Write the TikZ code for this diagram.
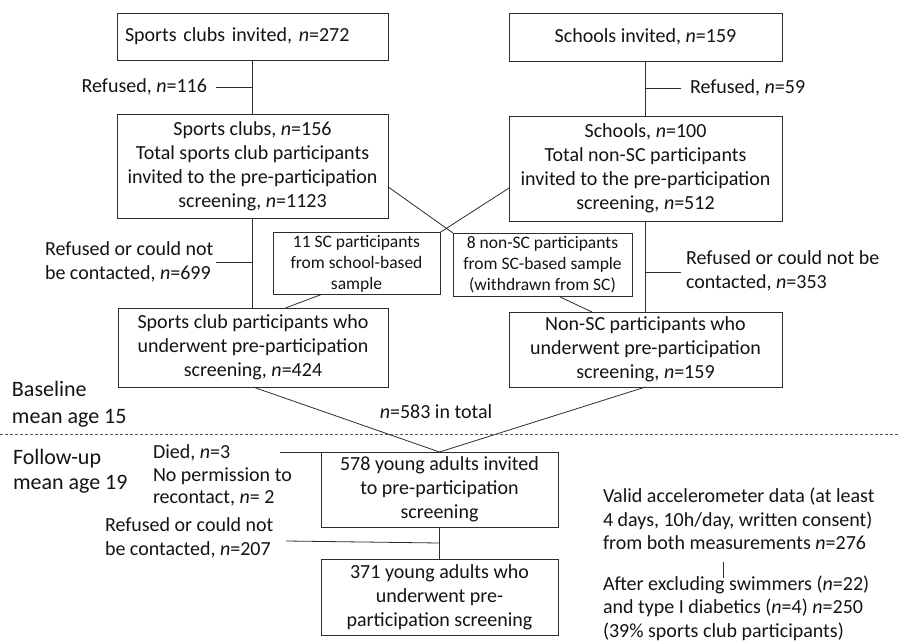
\documentclass[tikz,border=0pt]{standalone}
\usepackage{fontspec}
\setmainfont{Carlito}
\usetikzlibrary{calc}
\definecolor{lc}{RGB}{45,45,45}
\definecolor{tc}{RGB}{20,20,20}
\begin{document}
\begin{tikzpicture}[x=1pt,y=-1pt,
  every node/.style={inner sep=0pt, outer sep=0pt, text=tc},
  box/.style={draw=lc, line width=0.8pt, align=center, font=\fontsize{20}{24}\selectfont},
  sbox/.style={draw=lc, line width=0.8pt, align=center, font=\fontsize{17.5}{21}\selectfont},
  lbl/.style={align=left, font=\fontsize{20}{24}\selectfont},
  phase/.style={align=left, font=\fontsize{22}{27}\selectfont},
  conn/.style={draw=lc, line width=0.8pt},
  sep/.style={draw=lc!80, line width=1pt, dash pattern=on 3pt off 2pt},
]
\useasboundingbox[fill=white] (0,0) rectangle (899,642);

% boxes
\node[box, minimum width=271, minimum height=47, text width=255, align=left] (A) at (252.5,36.5) {Sports clubs invited, \textit{n}=272};
\node[box, minimum width=273, minimum height=48] (B) at (645.5,37) {Schools invited, \textit{n}=159};
\node[box, minimum width=271, minimum height=104] (C) at (252.5,166) {Sports clubs, \textit{n}=156\\Total sports club participants\\invited to the pre-participation\\screening, \textit{n}=1123};
\node[box, minimum width=273, minimum height=105] (D) at (645.5,168.5) {Schools, \textit{n}=100\\Total non-SC participants\\invited to the pre-participation\\screening, \textit{n}=512};
\node[sbox, minimum width=167, minimum height=62] (S) at (356.5,263.5) {11 SC participants\\from school-based\\sample};
\node[sbox, minimum width=179, minimum height=63] (N) at (542.5,264.5) {8 non-SC participants\\from SC-based sample\\(withdrawn from SC)};
\node[box, minimum width=270, minimum height=79] (E) at (253,347.5) {Sports club participants who\\underwent pre-participation\\screening, \textit{n}=424};
\node[box, minimum width=273, minimum height=75] (F) at (645.5,349.5) {Non-SC participants who\\underwent pre-participation\\screening, \textit{n}=159};
\node[box, minimum width=237, minimum height=75] (G) at (439.5,489.5) {578 young adults invited\\to pre-participation\\screening};
\node[box, minimum width=237, minimum height=76] (H) at (439.5,597) {371 young adults who\\underwent pre-\\participation screening};

% labels
\node[lbl, anchor=east] (r116) at (207,87) {Refused, \textit{n}=116};
\node[lbl, anchor=west] (r59) at (690,88) {Refused, \textit{n}=59};
\node[lbl, anchor=west] (r699) at (45,261.5) {Refused or could not\\be contacted, \textit{n}=699};
\node[lbl, anchor=west] (r353) at (686,271) {Refused or could not be\\contacted, \textit{n}=353};
\node[lbl] (tot) at (436,412) {\textit{n}=583 in total};
\node[phase, anchor=west] (base) at (12,404.5) {Baseline\\mean age 15};
\node[phase, anchor=west, font=\fontsize{22}{24.5}\selectfont] (fol) at (13,471) {Follow-up\\mean age 19};
\node[lbl, anchor=west, font=\fontsize{20}{22.5}\selectfont] (died) at (153,475.5) {Died, \textit{n}=3\\No permission to\\recontact, \textit{n}= 2};
\node[lbl, anchor=west] (r207) at (105,538) {Refused or could not\\be contacted, \textit{n}=207};
\node[lbl, anchor=west, font=\fontsize{20}{23.5}\selectfont] (acc) at (603,519) {Valid accelerometer data (at least\\4 days, 10h/day, written consent)\\from both measurements \textit{n}=276};
\node[lbl, anchor=west, font=\fontsize{20}{23.5}\selectfont] (excl) at (603,608) {After excluding swimmers (\textit{n}=22)\\and type I diabetics (\textit{n}=4) \textit{n}=250\\(39\% sports club participants)};

% connectors
\draw[conn] (A.south) -- (C.north);
\coordinate (r116e) at (216,87);
\draw[conn] (r116e) -- (r116e -| A.south);
\draw[conn] (B.south) -- (D.north);
\coordinate (r59e) at (681,88);
\draw[conn] (r59e) -- (r59e -| B.south);
\draw[conn] (C.south) -- (C.south |- E.north);
\coordinate (r699e) at (216,262);
\draw[conn] (r699e) -- (r699e -| C.south);
\draw[conn] (D.south) -- (D.south |- F.north);
\coordinate (r353e) at (681,272);
\draw[conn] (r353e) -- (r353e -| D.south);
\draw[conn] ($(C.north east)!0.70!(C.south east)$) -- (N.north west);
\draw[conn] ($(D.north west)!0.686!(D.south west)$) -- (S.north east);
\draw[conn] ($(S.south west)!0.29!(S.south east)$) -- ($(E.north west)!0.62!(E.north east)$);
\draw[conn] ($(N.south west)!0.587!(N.south east)$) -- ($(F.north west)!0.304!(F.north east)$);
\draw[conn] (E.south) -- (G.north);
\draw[conn] (F.south) -- (G.north);
\coordinate (diede) at (280,452);
\draw[conn] (diede) -- (G.north west);
\draw[conn] (G.south) -- (H.north);
\coordinate (r207e) at (286,541);
\draw[conn] (r207e) -- ($(G.south)!0.5!(H.north)$);
\coordinate (t1) at (723,562);
\coordinate (t2) at (723,578);
\draw[conn] (t1) -- (t2);
\coordinate (dl) at (0,434);
\coordinate (dr) at (899,434);
\draw[sep] (dl) -- (dr);
\end{tikzpicture}
\end{document}
